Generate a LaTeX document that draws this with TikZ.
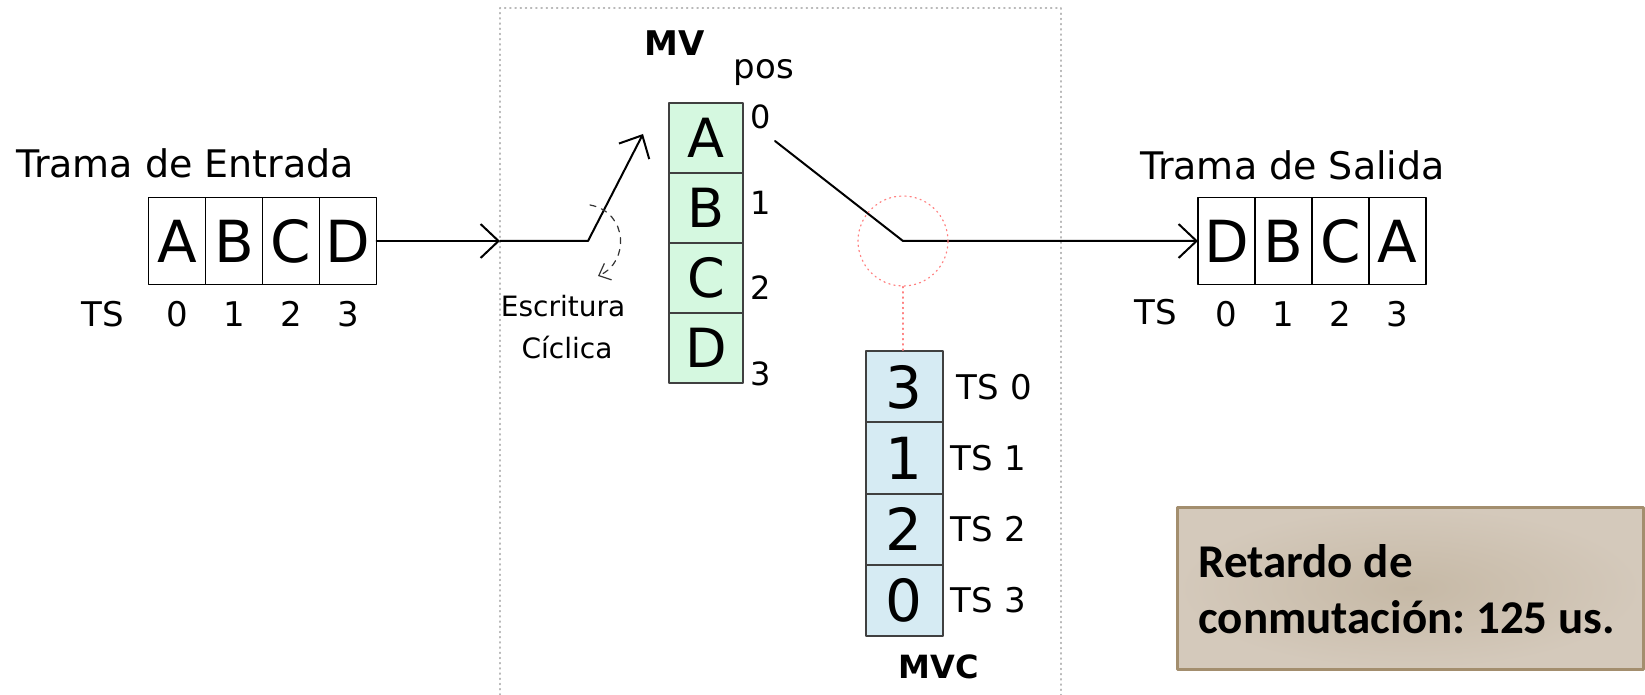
\documentclass[tikz,border=0pt]{standalone}
\usepackage{fontspec}
\setmainfont{DejaVu Sans}
\newfontfamily\notefont{Carlito}
\usepackage{tikz}
\usetikzlibrary{arrows.meta,positioning}
\definecolor{mvgreen}{RGB}{213,248,224}
\definecolor{mvcblue}{RGB}{214,235,243}
\definecolor{notefill}{RGB}{212,201,187}
\definecolor{notemid}{RGB}{198,185,166}
\definecolor{noteedge}{RGB}{163,142,110}
\newcommand{\fs}[1]{\fontsize{#1}{#1}\selectfont}
\frenchspacing

\begin{document}
\begin{tikzpicture}[line cap=round,line join=round,x=0.5pt,y=-0.5pt,
  >={Straight Barb[length=9pt,width=17pt]},
  slot/.style={draw,line width=0.8pt,fill=white,minimum width=28.5pt,minimum height=43.5pt,inner sep=0pt,outer sep=0pt,font=\fs{29}},
  mvcell/.style={draw=black!75,line width=1pt,fill=mvgreen,minimum width=37pt,minimum height=35pt,inner sep=0pt,outer sep=0pt,font=\fs{27}},
  mvccell/.style={draw=black!75,line width=1pt,fill=mvcblue,minimum width=38.5pt,minimum height=35.5pt,inner sep=0pt,outer sep=0pt,font=\fs{29}},
  lbl/.style={font=\fs{17},inner sep=0pt},
  link/.style={line width=1pt}]
\path[fill=white] (0,0) rectangle (1645,695);
\useasboundingbox (0,0) rectangle (1645,695);

\draw[gray!55,dotted,line width=0.6pt] (500,695) -- (500,8) -- (1061,8) -- (1061,695);

% trama de entrada
\node[slot] (inA) at (177,241) {A};
\node[slot,right=0pt of inA] (inB) {B};
\node[slot,right=0pt of inB] (inC) {C};
\node[slot,right=0pt of inC] (inD) {D};
\node[font=\fs{19},inner sep=0pt,anchor=base west] (tin) at (16,178) {Trama de Entrada};
\node[lbl,anchor=base] (tsin) at (103,327) {TS};
\foreach \c/\t in {A/0,B/1,C/2,D/3}
  \path (in\c.south) ++(0,42) node[lbl,anchor=base] (tsin\t) {\t};

% escritura ciclica en la MV
\coordinate (gate) at (500,241);
\coordinate (wr) at (588,241);
\coordinate (wrtip) at (643,134);
\draw[link,->] (inD.east) -- (gate);
\draw[link,->] (gate) -- (wr) -- (wrtip);
\draw[dashed,black!80,line width=0.6pt,-{Straight Barb[length=5pt,width=9pt]}] (590,205) .. controls (628,212) and (630,262) .. (598,276);
\node[font=\fs{14},inner sep=0pt,anchor=base] (escr) at (563,317) {Escritura};
\node[font=\fs{14},inner sep=0pt,anchor=base] (cicl) at (567,359) {Cíclica};

\node[mvcell] (mvA) at (706,138) {A};
\node[mvcell,below=0pt of mvA] (mvB) {B};
\node[mvcell,below=0pt of mvB] (mvC) {C};
\node[mvcell,below=0pt of mvC] (mvD) {D};
\node[font=\bfseries\fs{17},inner sep=0pt,anchor=base] (mv) at (675,56) {MV};
\node[lbl,anchor=base] (pos) at (764,79) {pos};
\foreach \i in {0,...,3}
  \node[font=\fs{16},inner sep=0pt,anchor=west] (pos\i) at (750,{117+85.5*\i}) {\i};

% lectura controlada por la MVC
\coordinate (rd) at (775,141);
\coordinate (jout) at (903,241);
\node[slot] (out0) at (1226.5,241) {D};
\node[slot,right=0pt of out0] (out1) {B};
\node[slot,right=0pt of out1] (out2) {C};
\node[slot,right=0pt of out2] (out3) {A};
\draw[link,->] (rd) -- (jout) -- (out0.west);
\node[draw=red!50,dotted,line width=0.6pt,circle,minimum size=45pt,inner sep=0pt] (ring) at (jout) {};

\node[mvccell] (mvc0) at (904,387) {3};
\node[mvccell,below=0pt of mvc0] (mvc1) {1};
\node[mvccell,below=0pt of mvc1] (mvc2) {2};
\node[mvccell,below=0pt of mvc2] (mvc3) {0};
\draw[red!50,dotted,line width=0.6pt] (ring.south) -- (ring.south |- mvc0.north);
\node[lbl,right=7pt of mvc0] (ts0) {TS 0};
\node[lbl,right=4pt of mvc1] (ts1) {TS 1};
\node[lbl,right=4pt of mvc2] (ts2) {TS 2};
\node[lbl,right=4pt of mvc3] (ts3) {TS 3};
\node[font=\bfseries\fs{16},inner sep=0pt,anchor=base] (mvc) at (939,678) {MVC};

% trama de salida
\node[font=\fs{19},inner sep=0pt,anchor=base west] (tout) at (1140,180) {Trama de Salida};
\node[lbl,anchor=base] (tsout) at (1156,325) {TS};
\foreach \t in {0,...,3}
  \path (out\t.south) ++(0,42) node[lbl,anchor=base] (tsout\t) {\t};

\shade[inner color=notemid,outer color=notefill,draw=noteedge,line width=1.5pt]
  (1177,507) rectangle (1643,669);
\node[inner sep=0pt,anchor=base west,align=left,
  font=\notefont\bfseries\fontsize{23.5}{28}\selectfont]
  (note) at (1198,633) {Retardo de\\conmutación: 125 us.};
\end{tikzpicture}
\end{document}
